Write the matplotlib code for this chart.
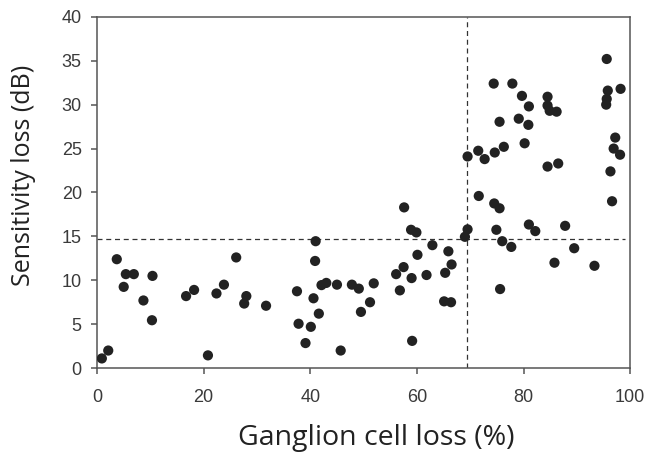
import matplotlib
matplotlib.use("Agg")
import matplotlib.pyplot as plt

plt.rcParams["font.family"] = ["Liberation Sans", "DejaVu Sans"]

# ganglion cell loss (%) vs sensitivity loss (dB)
ganglion_loss = [0.9, 2.1, 3.7, 5.0, 5.4, 6.9, 8.7, 10.4, 10.3, 16.7,
                 18.2, 20.8, 22.4, 23.8, 26.1, 27.6, 28.0, 31.7, 37.5, 37.8,
                 39.1, 40.1, 40.6, 41.0, 40.9, 41.6, 42.1, 43.0, 45.0, 45.7,
                 47.8, 49.1, 49.5, 51.2, 51.9, 56.1, 56.8, 57.5, 57.6, 58.9,
                 59.9, 59.0, 59.1, 60.1, 61.8, 62.9, 65.1, 66.4, 65.3, 65.9,
                 66.5, 69.0, 69.5, 69.5, 71.5, 72.7, 71.6, 74.4, 74.6, 74.5,
                 75.5, 74.9, 75.5, 75.6, 76.0, 76.3, 77.9, 77.7, 79.1, 79.7,
                 80.2, 80.9, 81.0, 81.0, 82.2, 84.5, 84.5, 84.9, 84.5, 86.2,
                 86.5, 85.8, 87.8, 89.5, 93.3, 95.6, 95.6, 95.8, 95.5, 98.2,
                 97.2, 96.9, 98.1, 96.3, 96.6]
sensitivity_loss = [1.1, 2.0, 12.4, 9.25, 10.7, 10.7, 7.7, 10.5, 5.45, 8.2,
                    8.9, 1.45, 8.5, 9.5, 12.6, 7.35, 8.2, 7.1, 8.75, 5.05,
                    2.85, 4.7, 7.95, 14.45, 12.2, 6.2, 9.45, 9.7, 9.5, 2.0,
                    9.5, 9.05, 6.4, 7.5, 9.65, 10.7, 8.85, 11.5, 18.3, 15.75,
                    15.45, 10.25, 3.1, 12.9, 10.6, 14.0, 7.6, 7.5, 10.85, 13.3,
                    11.8, 14.95, 15.8, 24.1, 24.75, 23.8, 19.6, 32.4, 24.55, 18.75,
                    18.2, 15.75, 28.05, 9.0, 14.45, 25.2, 32.4, 13.8, 28.4, 31.0,
                    25.6, 27.7, 29.8, 16.35, 15.6, 30.9, 29.9, 29.3, 22.95, 29.2,
                    23.3, 12.0, 16.2, 13.65, 11.65, 35.2, 30.65, 31.6, 30.0, 31.8,
                    26.25, 25.0, 24.3, 22.4, 19.0]
cutoff_x = 69.3
cutoff_y = 14.7

fig = plt.figure(figsize=(6.47, 4.55), dpi=100)
ax = fig.add_axes([0.150, 0.191, 0.824, 0.772])

ax.scatter(ganglion_loss, sensitivity_loss, s=54, color="#222222",
           edgecolors="none", zorder=3)
ax.axhline(cutoff_y, xmin=0, xmax=0.99, color="#333333", lw=0.9,
           ls=(0, (4, 3)), zorder=2)
ax.axvline(cutoff_x, color="#333333", lw=0.9, ls=(0, (4, 3)), zorder=2)

ax.set_xlim(0, 100)
ax.set_ylim(0, 40)
ax.set_xticks([0, 20, 40, 60, 80, 100])
ax.set_yticks(range(0, 41, 5))

for sp in ax.spines.values():
    sp.set_color("#555555")
    sp.set_linewidth(1.1)
ax.tick_params(direction="out", length=4, width=1.1, color="#555555",
               labelcolor="#3a3a3a", labelsize=13, pad=7)
ax.tick_params(axis="x", pad=11)

ax.set_xlabel("Ganglion cell loss (%)", fontsize=20.5, family="Open Sans",
              color="#222222")
ax.set_ylabel("Sensitivity loss (dB)", fontsize=18, family="Open Sans",
              color="#222222")
ax.xaxis.set_label_coords(0.524, -0.16)
ax.yaxis.set_label_coords(-0.115, 0.55)

fig.savefig("out.png", dpi=100)
